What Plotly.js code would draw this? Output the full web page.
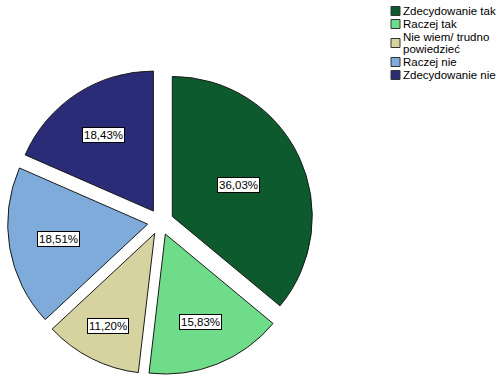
<!DOCTYPE html>
<html>
<head>
<meta charset="utf-8">
<script src="https://cdn.plot.ly/plotly-3.0.1.min.js"></script>
<style>html,body{margin:0;padding:0;background:#fff;}#chart{width:503px;height:385px;}</style>
</head>
<body>
<div id="chart"></div>
<script>
const labels = ["Zdecydowanie tak", "Raczej tak", "Nie wiem/ trudno<br>powiedzieć", "Raczej nie", "Zdecydowanie nie"];
const values = [36.03, 15.83, 11.20, 18.51, 18.43];
const colors = ["#0c5a2d", "#6fdc8a", "#d6d3a0", "#7eabd9", "#2a2c77"];

const W = 503, H = 385;
const pull = 0.093;
const domX = [0.0149, 0.6233];
const domY = [0.026, 0.821];
const FONT = "Liberation Sans, Arial, sans-serif";

// label positions follow the same geometry Plotly uses for horizontal inside text
const cxPx = W * (domX[0] + domX[1]) / 2;
const cyPx = H * (1 - (domY[0] + domY[1]) / 2);
const r = Math.min(W * (domX[1] - domX[0]) / 2, H * (domY[1] - domY[0]) / 2) / (1 + pull);
const total = values.reduce((a, b) => a + b, 0);
const annotations = [];
let cum = 0;
values.forEach((v, i) => {
  const frac = v / total;
  const half = frac * Math.PI;
  const mid = (cum + frac / 2) * 2 * Math.PI;
  cum += frac;
  const s = Math.sin(half);
  const rIn = Math.min(s / (1 + s), 0.5);
  const d = r * (1 - rIn) + pull * r;
  const px = cxPx + d * Math.sin(mid);
  const py = cyPx - d * Math.cos(mid);
  annotations.push({
    xref: "paper", yref: "paper", x: px / W, y: 1 - py / H,
    xanchor: "center", yanchor: "middle", showarrow: false,
    text: v.toFixed(2).replace(".", ",") + "%",
    font: {family: FONT, size: 11.5, color: "#000"},
    bgcolor: "#ffffff", bordercolor: "#000000", borderwidth: 1, borderpad: 1
  });
});

// legend (compact, drawn as shapes + text)
const legendRows = [11, 24, 43, 62, 75];
const lineGap = 12.5;
const shapes = [];
labels.forEach((lab, i) => {
  const yc = legendRows[i];
  shapes.push({
    type: "rect", xref: "paper", yref: "paper",
    x0: 391 / W, x1: 400 / W, y0: 1 - (yc + 4.5) / H, y1: 1 - (yc - 4.5) / H,
    fillcolor: colors[i], line: {color: "#333333", width: 1}
  });
  const lines = lab.split("<br>");
  lines.forEach((ln, j) => {
    const y = yc + (j - (lines.length - 1) / 2) * lineGap;
    annotations.push({
      xref: "paper", yref: "paper", x: 401 / W, y: 1 - y / H,
      xanchor: "left", yanchor: "middle", align: "left", showarrow: false,
      text: ln, font: {family: FONT, size: 11.5, color: "#000"}
    });
  });
});

const data = [{
  type: "pie",
  labels: labels,
  values: values,
  sort: false,
  direction: "clockwise",
  rotation: 0,
  pull: values.map(() => pull),
  marker: {colors: colors, line: {color: "#1a1a1a", width: 1}},
  textinfo: "none",
  hoverinfo: "label+percent",
  domain: {x: domX, y: domY},
  showlegend: false
}];

const layout = {
  width: W, height: H,
  margin: {l: 0, r: 0, t: 0, b: 0, pad: 0, autoexpand: false},
  paper_bgcolor: "#ffffff",
  showlegend: false,
  annotations: annotations,
  shapes: shapes
};

Plotly.newPlot("chart", data, layout, {displayModeBar: false, staticPlot: true});
</script>
</body>
</html>
